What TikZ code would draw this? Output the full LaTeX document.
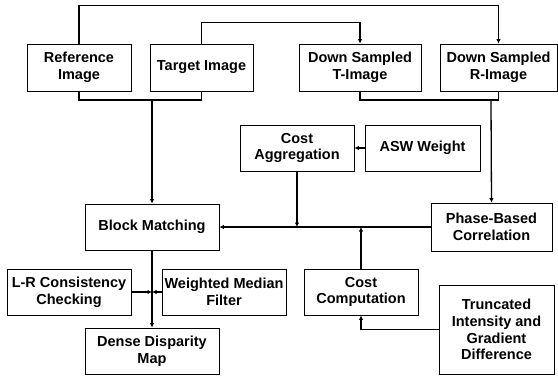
\documentclass[tikz,border=0pt]{standalone}
\usepackage{fontspec}
\setmainfont{Liberation Sans}
\usetikzlibrary{arrows.meta}

\tikzset{
	block/.style = {draw, line width=0.8pt, align=center, inner sep=0pt,
		font=\fontsize{14.5}{16.8}\selectfont\bfseries},
	flow/.style  = {line width=1.3pt, -{Latex[length=4.5pt,width=4.5pt]}},
	wire/.style  = {line width=1.3pt}
}

\begin{document}
\begin{tikzpicture}[x=1pt, y=-1pt]
				%\draw[help lines] (0,0) grid (558,376);
				\useasboundingbox (0,0) rectangle (558,376);
				
				% input images
				\node[block, minimum width=104pt, minimum height=47pt] (ref) at (79,67.5) {Reference\\Image};
				\node[block, minimum width=103pt, minimum height=47pt] (tgt) at (201.5,67.5) {Target Image};
				\node[block, minimum width=122pt, minimum height=47pt] (dst) at (360,67.5) {Down Sampled\\T-Image};
				\node[block, minimum width=117pt, minimum height=47pt] (dsr) at (498.5,67.5) {Down Sampled\\R-Image};
				
				% matching stage
				\node[block, minimum width=114pt, minimum height=46pt] (agg) at (297,148) {Cost\\Aggregation};
				\node[block, minimum width=115pt, minimum height=46pt] (asw) at (422.5,148) {ASW Weight};
				\node[block, minimum width=134pt, minimum height=46pt] (bm) at (152,227) {Block Matching};
				\node[block, minimum width=121pt, minimum height=48pt] (pbc) at (491.5,227) {Phase-Based\\Correlation};
				
				% refinement and cost
				\node[block, minimum width=124pt, minimum height=46pt] (lrc) at (69,292) {L-R Consistency\\Checking};
				\node[block, minimum width=124pt, minimum height=46pt] (wmf) at (224,292) {Weighted Median\\Filter};
				\node[block, minimum width=114pt, minimum height=46pt] (cc) at (361,292) {Cost\\Computation};
				\node[block, minimum width=115pt, minimum height=89pt] (tid) at (496.5,329.5) {Truncated\\Intensity and\\Gradient\\Difference};
				\node[block, minimum width=134pt, minimum height=46pt] (ddm) at (152,351) {Dense Disparity\\Map};
				
				\coordinate (jin) at (152,100);
				\coordinate (jds) at (491,100);
				
				% down sampling
				\draw[flow] (ref.north) -- ++(0,-38) -| (dsr.north);
				\draw[flow] (tgt.north) -- ++(0,-21) -| (dst.north);
				
				\draw[wire] (ref.south) |- (jin);
				\draw[wire] (tgt.south) |- (jin);
				\draw[flow] (jin) -- (bm.north);
				\draw[wire] (dst.south) |- (jds);
				\draw[wire] (dsr.south) |- (jds);
				\draw[flow] (jds) -- (pbc.north);
				
				\draw[flow] (asw.west) -- (agg.east);
				\draw[flow] (pbc.west) -- (bm.east);
				\draw[flow] (agg.south) -- (agg.south |- bm.east);
				\draw[flow] (cc.north) -- (cc.north |- bm.east);
				\draw[flow] (tid.west) -| (cc.south);
				
				\draw[flow] (bm.south) -- (ddm.north);
				\draw[flow] (lrc.east) -- (lrc.east -| bm.south);
				\draw[flow] (wmf.west) -- (wmf.west -| bm.south);
			\end{tikzpicture}
\end{document}
